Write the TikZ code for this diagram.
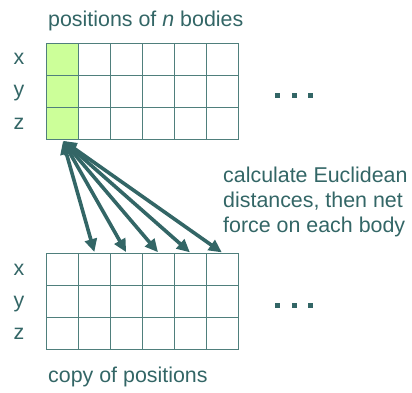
\documentclass[tikz,border=0pt]{standalone}
\usepackage{fontspec}
\setmainfont{Liberation Sans}
\usetikzlibrary{arrows.meta}
\definecolor{teal}{HTML}{336666}
\definecolor{gridc}{HTML}{4F7F7C}
\definecolor{lime}{HTML}{CCFF99}
\begin{document}
\begin{tikzpicture}[x=1pt,y=-1pt,
  cell/.style={draw=gridc,line width=1.3pt,minimum width=32pt,minimum height=32pt,inner sep=0pt,anchor=north west},
  hot/.style={cell,fill=lime},
  lbl/.style={text=teal,font=\fontsize{21.4}{25}\selectfont,inner sep=0pt,anchor=base},
  txt/.style={text=teal,font=\fontsize{21.4}{25}\selectfont,inner sep=0pt,anchor=base west},
  dotbox/.style={fill=teal,minimum size=5pt,inner sep=0pt},
  link/.style={draw=teal,line width=3.6pt,{Triangle[length=13pt,width=12pt]}-{Triangle[length=13pt,width=12pt]},shorten <=1pt,shorten >=1pt}]
\useasboundingbox (0,0) rectangle (412,393);

% positions array (top) and its copy (bottom)
\foreach \c in {1,...,6}{
  \foreach \r in {1,2,3}{
    \pgfmathsetmacro{\xx}{46+32*(\c-1)}
    \pgfmathsetmacro{\yt}{43+32*(\r-1)}
    \pgfmathsetmacro{\yb}{253+32*(\r-1)}
    \ifnum\c=1
      \node[hot] (t-\c-\r) at (\xx,\yt) {};
    \else
      \node[cell] (t-\c-\r) at (\xx,\yt) {};
    \fi
    \node[cell] (b-\c-\r) at (\xx,\yb) {};
  }
}

% row labels
\node[lbl] (tx) at (19,65) {x};
\node[lbl] (ty) at (19,97) {y};
\node[lbl] (tz) at (19,129) {z};
\node[lbl] (bx) at (19,275) {x};
\node[lbl] (by) at (19,307) {y};
\node[lbl] (bz) at (19,339) {z};

% captions
\node[txt] (title) at (48,27) {positions of \textit{n} bodies};
\node[txt] (copy) at (48,382) {copy of positions};
\node[txt] (c1) at (223,182) {calculate Euclidean};
\node[txt] (c2) at (223,207) {distances, then net};
\node[txt] (c3) at (223,232) {force on each body};

% ellipses
\foreach \i/\x in {1/277,2/294,3/310}{
  \node[dotbox] (td\i) at (\x,96) {};
  \node[dotbox] (bd\i) at (\x,305.5) {};
}

% interactions between body 1 and the others
\foreach \c in {2,...,6}{
  \draw[link] (t-1-3.south) -- (b-\c-1.north);
}
\end{tikzpicture}
\end{document}
